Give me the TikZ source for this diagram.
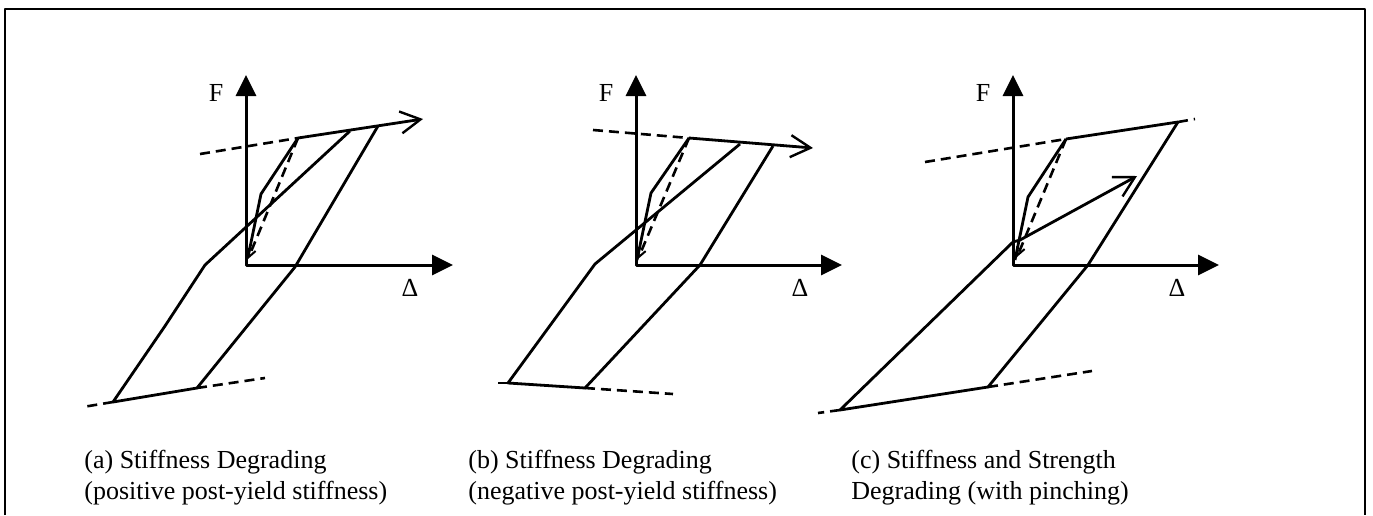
\documentclass[tikz,border=0pt]{standalone}
\usepackage{fontspec}
\setmainfont{Liberation Serif}
\usetikzlibrary{arrows.meta, positioning}
\tikzset{
  every picture/.style={line width=1.4pt, line join=round},
  axis/.style={{Triangle[length=10.5pt, width=10pt]}-{Triangle[length=10.5pt, width=10pt]}, line width=1.5pt},
  curve/.style={line width=1.4pt},
  guide/.style={line width=1.3pt, dash pattern=on 5pt off 3pt},
  barb/.style={-{Straight Barb[length=10pt, width=11pt, line width=1.2pt]}},
  unload/.style={guide, -{Straight Barb[length=4pt, width=4pt, line width=1pt]}},
  symb/.style={font=\fontsize{13}{15}\selectfont, inner sep=0pt},
  caption/.style={font=\fontsize{13}{15.5}\selectfont, align=left, anchor=north west, inner sep=0pt},
}

\begin{document}
\begin{tikzpicture}[x=0.5pt, y=-0.5pt]
  \useasboundingbox (0,0) rectangle (1373,515);
  \draw[line width=0.9pt] (5,515) -- (5,9) -- (1365,9) -- (1365,515);

  % (a) positive post-yield stiffness
  \begin{scope}[shift={(246,265)}]
    \coordinate (oa) at (0,0);
    \coordinate (fa) at (0,-190);
    \coordinate (da) at (207,0);
    \coordinate (ya) at (52,-127);
    \coordinate (ua) at (132,-139);
    \coordinate (na) at (-49,123);
    \coordinate (ma) at (-133,137);
    \draw[axis] (fa) -- (oa) -- (da);
    \node[symb] (Fa) at (-30,-172) {F};
    \node[symb] (Da) at (164,23) {Δ};
    \draw[guide] (-46,-111) -- (ya);
    \draw[curve] (2,-8) -- (15,-71) -- (ya);
    \draw[unload] (ya) -- (2,-6);
    \draw[curve, barb] (ya) -- (177,-146);
    \draw[curve] (ua) -- (49,2) -- (na) -- (ma) -- (-81,61) -- (-41,0) -- (104,-134);
    \draw[guide] (ma) -- (-163,142);
    \draw[guide] (na) -- (19,113);
  \end{scope}

  % (b) negative post-yield stiffness
  \begin{scope}[shift={(636,265)}]
    \coordinate (ob) at (0,0);
    \coordinate (fb) at (0,-190);
    \coordinate (db) at (206,0);
    \coordinate (yb) at (53,-127);
    \coordinate (ub) at (137,-119);
    \coordinate (nb) at (-51,123);
    \coordinate (mb) at (-128,118);
    \draw[axis] (fb) -- (ob) -- (db);
    \node[symb] (Fb) at (-30,-172) {F};
    \node[symb] (Db) at (164,23) {Δ};
    \draw[guide] (-43,-135) -- (yb);
    \draw[curve] (1,-5) -- (15,-72) -- (yb);
    \draw[unload] (yb) -- (2,-6);
    \draw[curve, barb] (yb) -- (177,-117);
    \draw[curve] (ub) -- (64,0) -- (nb) -- (mb) -- (-41,-1) -- (104,-121);
    \draw[guide] (mb) -- (-139,118);
    \draw[guide] (nb) -- (37,129);
  \end{scope}

  % (c) stiffness and strength degrading, pinching
  \begin{scope}[shift={(1013,265)}]
    \coordinate (oc) at (0,0);
    \coordinate (fc) at (0,-190);
    \coordinate (dc) at (206,0);
    \coordinate (yc) at (53,-126);
    \coordinate (uc) at (165,-143);
    \coordinate (nc) at (-25,122);
    \coordinate (mc) at (-173,145);
    \draw[axis] (fc) -- (oc) -- (dc);
    \node[symb] (Fc) at (-30,-172) {F};
    \node[symb] (Dc) at (164,23) {Δ};
    \draw[guide] (-88,-103) -- (yc);
    \draw[curve] (2,-5) -- (15,-68) -- (yc);
    \draw[unload] (yc) -- (4,-8);
    \draw[curve] (yc) -- (uc);
    \draw[guide] (uc) -- (182,-146);
    \draw[curve, barb] (uc) -- (75,0) -- (nc) -- (mc) -- (0,-23) -- (7,-25) -- (124,-89);
    \draw[guide] (mc) -- (-195,148);
    \draw[guide] (nc) -- (79,106);
  \end{scope}

  \node[caption] (capa) at (83,449) {(a) Stiffness Degrading\\(positive post-yield stiffness)};
  \node[caption] (capb) at (467,449) {(b) Stiffness Degrading\\(negative post-yield stiffness)};
  \node[caption] (capc) at (850,449) {(c) Stiffness and Strength\\Degrading (with pinching)};
\end{tikzpicture}
\end{document}
